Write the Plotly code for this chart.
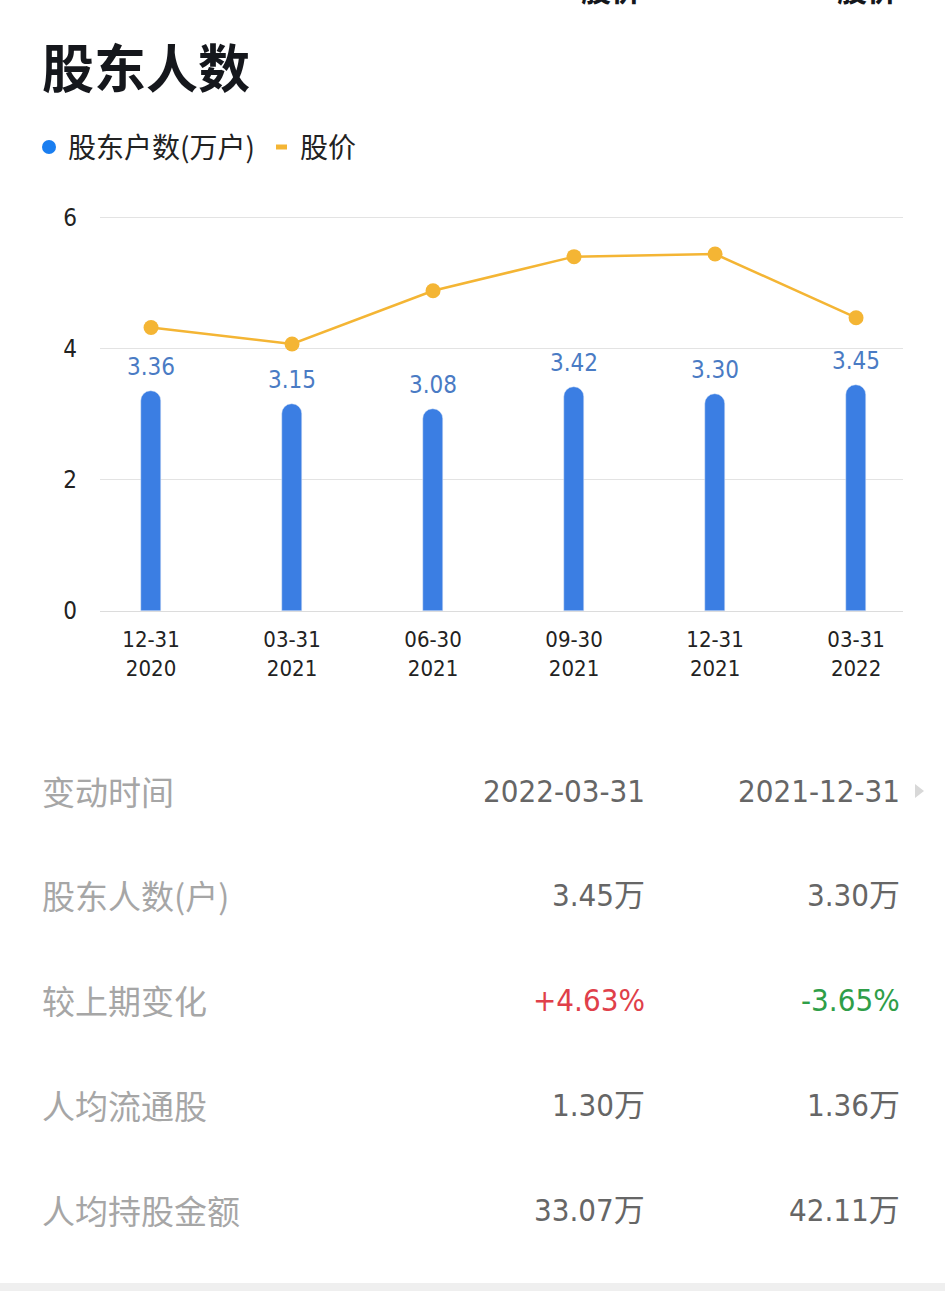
import plotly.graph_objects as go

# ---------------- data ----------------
categories = ["12-31\n2020", "03-31\n2021", "06-30\n2021", "09-30\n2021", "12-31\n2021", "03-31\n2022"]
holders = [3.36, 3.15, 3.08, 3.42, 3.30, 3.45]          # 股东户数(万户)
price = [4.32, 4.07, 4.88, 5.40, 5.44, 4.47]            # 股价
y_ticks = [0, 2, 4, 6]

table_labels = ["变动时间", "股东人数(户)", "较上期变化", "人均流通股", "人均持股金额"]
col1 = ["2022-03-31", "3.45万", "+4.63%", "1.30万", "33.07万"]
col2 = ["2021-12-31", "3.30万", "-3.65%", "1.36万", "42.11万"]
header_cut = ["股价", "股价"]

# ---------------- styling ----------------
W, H = 945, 1291
L, R, T, B = 100, 903, 214, 611
YMAX = 6.05
CJK = "Noto Sans CJK SC"
NUM = "DejaVu Sans Condensed, Roboto, Noto Sans CJK SC, sans-serif"
BLUE = "#3b7ee3"
LABEL_BLUE = "#4a7bc4"
ORANGE = "#f4b534"


def xp(px):
    return (px - L) / (R - L)


def yp(py):
    return (B - py) / (B - T)


x_idx = list(range(len(categories)))
ticktext = [c.replace("\n", "<br>") for c in categories]

fig = go.Figure()
fig.add_trace(go.Bar(
    x=x_idx, y=holders, width=0.145, marker=dict(color=BLUE, cornerradius=10),
    hoverinfo="skip", showlegend=False,
))
fig.add_trace(go.Scatter(
    x=x_idx, y=price, mode="lines+markers",
    line=dict(color=ORANGE, width=2.5),
    marker=dict(color=ORANGE, size=15),
    hoverinfo="skip", showlegend=False,
))

annotations = []
# value labels above bars
for xi, v in zip(x_idx, holders):
    annotations.append(dict(
        x=xi, y=v, xref="x", yref="y", text=f"{v:.2f}", showarrow=False,
        yanchor="bottom", yshift=8,
        font=dict(family=NUM, size=24, color=LABEL_BLUE),
    ))

# title
annotations.append(dict(
    x=xp(40), y=yp(65), xref="paper", yref="paper", xanchor="left", yanchor="middle",
    text="<b>股东人数</b>", showarrow=False,
    font=dict(family=CJK, size=52, color="#15171c"),
))
# cut-off header text at very top (clipped in the reference too)
for txt, rx in zip(header_cut, [643, 899]):
    annotations.append(dict(
        x=xp(rx), y=yp(12), xref="paper", yref="paper", xanchor="right", yanchor="bottom",
        text=f"<b>{txt}</b>", showarrow=False,
        font=dict(family=CJK, size=30, color="#15171c"),
    ))
# legend texts
annotations.append(dict(
    x=xp(66), y=yp(146), xref="paper", yref="paper", xanchor="left", yanchor="middle",
    text="股东户数(万户)", showarrow=False,
    font=dict(family=CJK, size=28, color="#222222"),
))
annotations.append(dict(
    x=xp(298), y=yp(146), xref="paper", yref="paper", xanchor="left", yanchor="middle",
    text="股价", showarrow=False,
    font=dict(family=CJK, size=28, color="#222222"),
))

# table
row_y = [791, 895, 1000, 1105, 1210]
for i, (lab, a, b) in enumerate(zip(table_labels, col1, col2)):
    yy = yp(row_y[i])
    annotations.append(dict(
        x=xp(40), y=yy, xref="paper", yref="paper", xanchor="left", yanchor="middle",
        text=lab, showarrow=False, font=dict(family=CJK, size=33, color="#a6a6a6"),
    ))
    ca, cb = "#666666", "#666666"
    if a.startswith("+"):
        ca = "#e0404a"
    elif a.startswith("-"):
        ca = "#2f9e48"
    if b.startswith("+"):
        cb = "#e0404a"
    elif b.startswith("-"):
        cb = "#2f9e48"
    annotations.append(dict(
        x=xp(647), y=yy, xref="paper", yref="paper", xanchor="right", yanchor="middle",
        text=a, showarrow=False, font=dict(family=NUM, size=31, color=ca),
    ))
    annotations.append(dict(
        x=xp(902), y=yy, xref="paper", yref="paper", xanchor="right", yanchor="middle",
        text=b, showarrow=False, font=dict(family=NUM, size=31, color=cb),
    ))

shapes = [
    # legend blue dot
    dict(type="circle", xref="paper", yref="paper",
         x0=xp(42), x1=xp(56), y0=yp(140), y1=yp(154),
         fillcolor="#1a7ef0", line=dict(width=0)),
    # legend orange dash
    dict(type="line", xref="paper", yref="paper",
         x0=xp(276), x1=xp(287), y0=yp(147), y1=yp(147),
         line=dict(color=ORANGE, width=5)),
    # small arrow triangle
    dict(type="path", xref="paper", yref="paper",
         path=f"M {xp(915)},{yp(784)} L {xp(924)},{yp(791)} L {xp(915)},{yp(798)} Z",
         fillcolor="#d8d8d8", line=dict(width=0)),
    # bottom shadow band
    dict(type="rect", xref="paper", yref="paper",
         x0=xp(0), x1=xp(W), y0=yp(H), y1=yp(1283),
         fillcolor="#efefef", line=dict(width=0), layer="below"),
]

fig.update_layout(
    width=W, height=H,
    margin=dict(l=L, r=W - R, t=T, b=H - B, pad=0),
    paper_bgcolor="white", plot_bgcolor="white",
    annotations=annotations, shapes=shapes,
    bargap=0, showlegend=False,
    xaxis=dict(
        range=[-0.362, 5.333], tickmode="array", tickvals=x_idx, ticktext=ticktext,
        showgrid=False, zeroline=False, showline=False, ticks="",
        ticklabelstandoff=13,
        tickfont=dict(family=NUM, size=22, color="#222222"),
        fixedrange=True,
    ),
    yaxis=dict(
        range=[0, YMAX], tickmode="array", tickvals=y_ticks,
        ticktext=[str(t) for t in y_ticks],
        showgrid=True, gridcolor="#e3e3e3", gridwidth=1,
        zeroline=True, zerolinecolor="#dcdcdc", zerolinewidth=1,
        showline=False, ticks="", ticklabelstandoff=22,
        tickfont=dict(family=NUM, size=24, color="#222222"),
        fixedrange=True,
    ),
)

fig.write_html("out.html")
